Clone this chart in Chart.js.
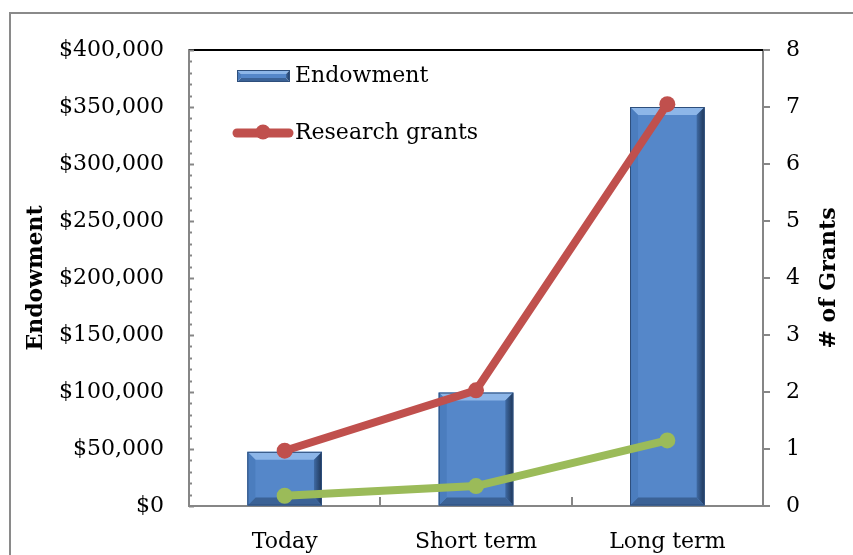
<!DOCTYPE html>
<html>
<head>
<meta charset="utf-8">
<script src="https://cdn.jsdelivr.net/npm/chart.js@4/dist/chart.umd.min.js"></script>
<style>
  html, body { margin: 0; background: #fff; }
</style>
</head>
<body>
<canvas id="grants" width="853" height="555"></canvas>
<script>
const categories = ['Today', 'Short term', 'Long term'];
const endowment = [47500, 99500, 350000];
const researchGrants = [0.97, 2.03, 7.05];
const otherGrants = [0.18, 0.35, 1.15];
const seriesNames = ['Endowment', 'Research grants', 'Other grants'];

const axisGray = '#868686';
const barBlue = '#5587C9';
const red = '#C0504D';
const green = '#9BBB59';
const font = 'DejaVu Serif';

Chart.defaults.color = '#000';
Chart.defaults.font.family = font;
Chart.defaults.font.size = 22;

// bevel look for the bars, drawn over the library's bar elements
function bevel(ctx, x0, y0, x1, y1, b) {
  ctx.save();
  ctx.fillStyle = '#8DB6E8';
  ctx.beginPath();
  ctx.moveTo(x0, y0); ctx.lineTo(x1, y0); ctx.lineTo(x1 - b, y0 + b); ctx.lineTo(x0 + b, y0 + b);
  ctx.fill();
  const g = ctx.createLinearGradient(x1 - b, 0, x1, 0);
  g.addColorStop(0, '#3F6AA3');
  g.addColorStop(1, '#1E3557');
  ctx.fillStyle = g;
  ctx.beginPath();
  ctx.moveTo(x1, y0); ctx.lineTo(x1, y1); ctx.lineTo(x1 - b, y1 - b); ctx.lineTo(x1 - b, y0 + b);
  ctx.fill();
  ctx.fillStyle = '#3B6296';
  ctx.beginPath();
  ctx.moveTo(x0, y1); ctx.lineTo(x1, y1); ctx.lineTo(x1 - b, y1 - b); ctx.lineTo(x0 + b, y1 - b);
  ctx.fill();
  ctx.fillStyle = '#4B7DBE';
  ctx.beginPath();
  ctx.moveTo(x0, y0); ctx.lineTo(x0 + b, y0 + b); ctx.lineTo(x0 + b, y1 - b); ctx.lineTo(x0, y1);
  ctx.fill();
  ctx.strokeStyle = '#2E4F7C';
  ctx.lineWidth = 1;
  ctx.strokeRect(x0 + 0.5, y0 + 0.5, x1 - x0 - 1, y1 - y0 - 1);
  ctx.restore();
}

const decor = {
  id: 'decor',
  beforeDraw(chart) {
    const ctx = chart.ctx;
    ctx.save();
    ctx.fillStyle = '#fff';
    ctx.fillRect(0, 0, chart.width, chart.height);
    ctx.strokeStyle = '#8A8A8A';
    ctx.lineWidth = 2;
    ctx.strokeRect(10, 13, chart.width + 20, chart.height + 20);
    ctx.restore();
  },
  afterDatasetDraw(chart, args) {
    if (args.index !== 0) return;
    chart.getDatasetMeta(0).data.forEach(el => {
      const p = el.getProps(['x', 'y', 'base', 'width'], true);
      bevel(chart.ctx, p.x - p.width / 2, p.y, p.x + p.width / 2, p.base, 8);
    });
  },
  afterDraw(chart) {
    const ctx = chart.ctx;
    const area = chart.chartArea;
    const y = chart.scales.y;
    const x = chart.scales.x;
    ctx.save();
    // top frame line
    ctx.strokeStyle = '#000';
    ctx.lineWidth = 2;
    ctx.beginPath();
    ctx.moveTo(area.left, area.top);
    ctx.lineTo(area.right, area.top);
    ctx.stroke();
    // inner ticks on the left axis
    ctx.strokeStyle = axisGray;
    for (let v = 0; v <= 400000; v += 10000) {
      const py = Math.round(y.getPixelForValue(v)) + 0.5;
      const len = v % 50000 === 0 ? 5 : 3;
      ctx.beginPath();
      ctx.moveTo(area.left, py);
      ctx.lineTo(area.left + len, py);
      ctx.stroke();
    }
    // category boundary ticks on the x axis
    for (let i = 0; i < categories.length - 1; i++) {
      const px = Math.round((x.getPixelForValue(i) + x.getPixelForValue(i + 1)) / 2);
      ctx.beginPath();
      ctx.moveTo(px, area.bottom);
      ctx.lineTo(px, area.bottom - 9);
      ctx.stroke();
    }
    // right axis title, reading upwards
    ctx.fillStyle = '#000';
    ctx.font = 'bold 22px "' + font + '"';
    ctx.textAlign = 'center';
    ctx.textBaseline = 'middle';
    ctx.translate(829, (area.top + area.bottom) / 2);
    ctx.rotate(-Math.PI / 2);
    ctx.fillText('# of Grants', 0, 0);
    ctx.restore();

    // legend inside the plot
    ctx.save();
    const L = area.left;
    bevel(ctx, L + 48, 70, L + 101, 82, 4);
    ctx.fillStyle = barBlue;
    ctx.fillRect(L + 52, 74, 45, 4);
    ctx.strokeStyle = red;
    ctx.lineWidth = 9;
    ctx.lineCap = 'round';
    ctx.beginPath();
    ctx.moveTo(L + 48, 133);
    ctx.lineTo(L + 100, 133);
    ctx.stroke();
    ctx.fillStyle = red;
    ctx.beginPath();
    ctx.arc(L + 74, 132, 7.5, 0, Math.PI * 2);
    ctx.fill();
    ctx.fillStyle = '#000';
    ctx.font = '22px "' + font + '"';
    ctx.textAlign = 'left';
    ctx.textBaseline = 'middle';
    ctx.fillText(chart.data.datasets[0].label, L + 106, 76);
    ctx.fillText(chart.data.datasets[1].label, L + 106, 133);
    ctx.restore();
  }
};

new Chart(document.getElementById('grants'), {
  type: 'bar',
  data: {
    labels: categories,
    datasets: [
      {
        label: seriesNames[0],
        data: endowment,
        yAxisID: 'y',
        backgroundColor: barBlue,
        borderWidth: 0,
        barPercentage: 0.78,
        categoryPercentage: 0.5,
        order: 3
      },
      {
        type: 'line',
        label: seriesNames[1],
        data: researchGrants,
        yAxisID: 'y1',
        borderColor: red,
        backgroundColor: red,
        borderWidth: 8,
        pointRadius: 8,
        pointBorderWidth: 0,
        tension: 0,
        order: 1
      },
      {
        type: 'line',
        label: seriesNames[2],
        data: otherGrants,
        yAxisID: 'y1',
        borderColor: green,
        backgroundColor: green,
        borderWidth: 8,
        pointRadius: 8,
        pointBorderWidth: 0,
        tension: 0,
        order: 2
      }
    ]
  },
  options: {
    responsive: false,
    animation: false,
    devicePixelRatio: 1,
    layout: { padding: { top: 50, left: 0, right: 0, bottom: 0 } },
    plugins: {
      legend: { display: false },
      tooltip: { enabled: false }
    },
    scales: {
      x: {
        grid: { display: false },
        border: { color: axisGray, width: 2 },
        ticks: { padding: 15, maxRotation: 0 },
        afterFit: s => { s.height = 49; }
      },
      y: {
        position: 'left',
        min: 0,
        max: 400000,
        grid: { drawOnChartArea: false, drawTicks: false },
        border: { color: axisGray, width: 2 },
        ticks: {
          stepSize: 50000,
          padding: 25,
          callback: v => '$' + v.toLocaleString('en-US')
        },
        title: {
          display: true,
          text: seriesNames[0],
          font: { weight: 'bold', size: 22 },
          padding: { top: 23, bottom: 0 }
        },
        afterFit: s => { s.width = 189; }
      },
      y1: {
        position: 'right',
        min: 0,
        max: 8,
        grid: { drawOnChartArea: false, drawTicks: true, tickLength: 7, color: axisGray, lineWidth: 2 },
        border: { color: axisGray, width: 2 },
        ticks: { stepSize: 1, padding: 16 },
        afterFit: s => { s.width = 90; }
      }
    }
  },
  plugins: [decor]
});
</script>
</body>
</html>
